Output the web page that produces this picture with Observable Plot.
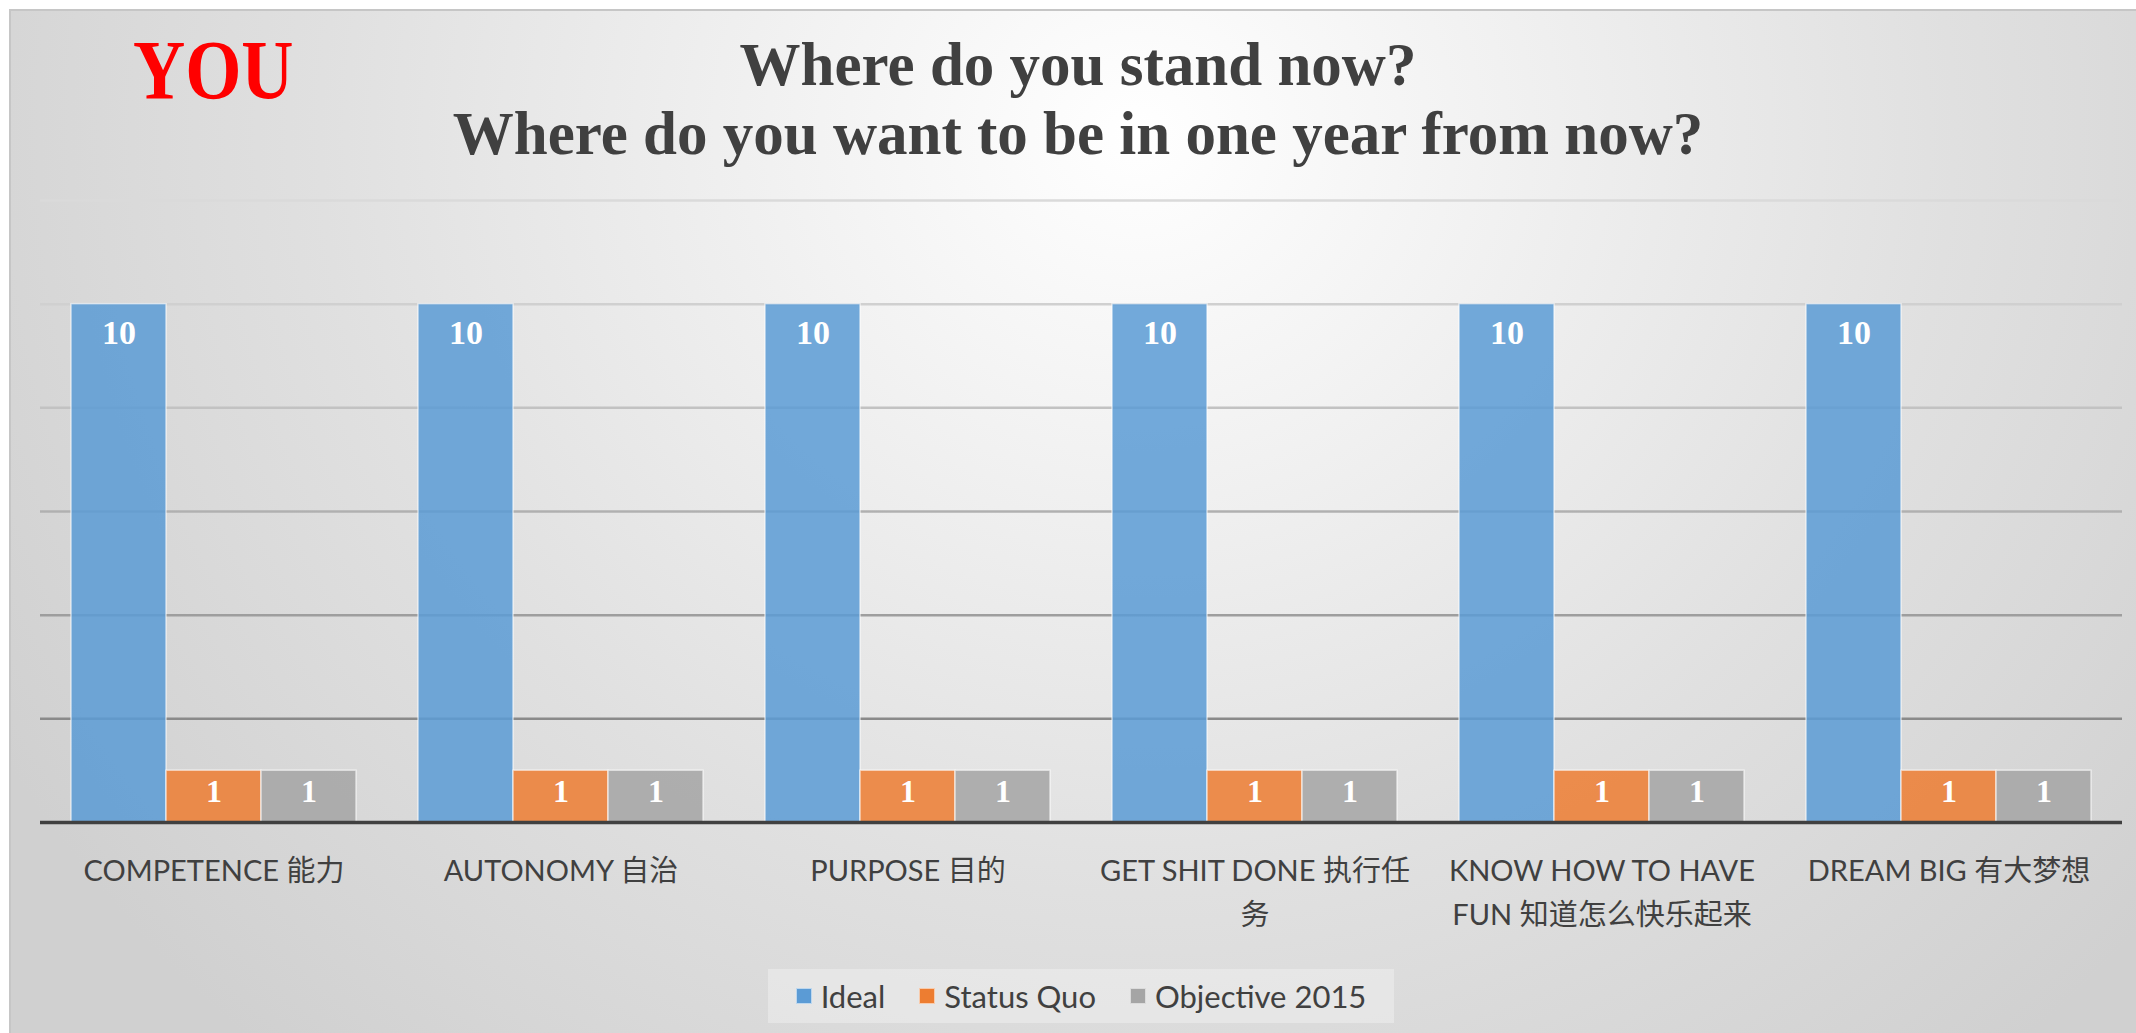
<!DOCTYPE html>
<html>
<head>
<meta charset="utf-8">
<script src="https://cdn.jsdelivr.net/npm/d3@7"></script>
<script src="https://cdn.jsdelivr.net/npm/@observablehq/plot@0.6"></script>
<style>
  html, body { margin: 0; padding: 0; background: #ffffff; }
  #page { position: relative; width: 2136px; height: 1033px; overflow: hidden; background: #ffffff; }
  #bg { position: absolute; left: 9px; top: 9px; width: 2127px; height: 1024px;
        border-left: 2px solid #c6c6c6; border-top: 2px solid #c6c6c6; box-sizing: border-box;
        background: radial-gradient(ellipse 62% 120% at 53% 12%, #ffffff 0%, #f0f0f0 30%, #e0e0e0 62%, #d0d0d0 100%); }
  #you { position: absolute; left: 133px; top: 29px; font: bold 84px/84px "Liberation Serif", serif; color: #ff0000; margin: 0;
         transform: scaleX(0.86); transform-origin: left center; }
  #title { position: absolute; left: 0; top: 30px; width: 2156px; text-align: center; margin: 0;
           font: bold 61px/69px "Liberation Serif", serif; color: #404040; }
  #chart { position: absolute; left: 0; top: 190px; }
  #legend { position: absolute; left: 768px; top: 969px; width: 626px; height: 54px;
            background: rgba(255,255,255,0.3); display: flex; align-items: center; justify-content: center;
            font: 31px "Lato", "Noto Sans", sans-serif; color: #404040; }
  .item { display: flex; align-items: center; margin: 0 17px; }
  .sw { width: 16px; height: 16px; margin-right: 9px; border: 1px solid rgba(255,255,255,0.6); box-sizing: border-box; }
</style>
</head>
<body>
<div id="page">
  <div id="bg"></div>
  <div id="you">YOU</div>
  <div id="title">Where do you stand now?<br>Where do you want to be in one year from now?</div>
  <div id="chart"></div>
  <div id="legend"></div>
</div>
<script>
const categories = ["COMPETENCE 能力", "AUTONOMY 自治", "PURPOSE 目的", "GET SHIT DONE 执行任务", "KNOW HOW TO HAVE FUN 知道怎么快乐起来", "DREAM BIG 有大梦想"];
const categoryLabels = ["COMPETENCE 能力", "AUTONOMY 自治", "PURPOSE 目的", "GET SHIT DONE 执行任\n务", "KNOW HOW TO HAVE\nFUN 知道怎么快乐起来", "DREAM BIG 有大梦想"];
const series = ["Ideal", "Status Quo", "Objective 2015"];
const ideal = [10, 10, 10, 10, 10, 10];
const statusQuo = [1, 1, 1, 1, 1, 1];
const objective2015 = [1, 1, 1, 1, 1, 1];
const seriesColors = ["#5B9BD5", "#ED7D31", "#A5A5A5"];
const yTicks = [2, 4, 6, 8, 10, 12];

const seriesValues = [ideal, statusQuo, objective2015];
const rows = categories.flatMap((c, i) => series.map((s, j) => ({category: c, series: s, value: seriesValues[j][i]})));

const gridColors = {2: "#8a8a8a", 4: "#9e9e9e", 6: "#b0b0b0", 8: "#c2c2c2", 10: "#d0d0d0", 12: "#dadada"};

const chart = Plot.plot({
  width: 2136,
  height: 770,
  marginLeft: 39,
  marginRight: 13,
  marginTop: 10,
  marginBottom: 138,
  style: {background: "transparent", fontSize: "29px", fontFamily: "Lato, 'Noto Sans CJK SC', sans-serif", color: "#404040"},
  facet: {data: rows, x: "category"},
  fx: {domain: categories, padding: 0, label: null},
  x: {domain: series, paddingInner: 0, paddingOuter: 0.325, axis: null},
  y: {domain: [0, 12], axis: null},
  color: {domain: series, range: seriesColors},
  marks: [
    Plot.axisFx({anchor: "bottom", label: null, tickSize: 0, tickPadding: 28, lineHeight: 1.5, fontSize: 29,
      tickFormat: d => categoryLabels[categories.indexOf(d)]}),
    ...yTicks.map(t => Plot.ruleY([t], {stroke: gridColors[t], strokeWidth: 2.5})),
    Plot.barY(rows, {x: "series", y: "value", fill: "series", fillOpacity: 0.85, stroke: "white", strokeOpacity: 0.6, strokeWidth: 1.5}),
    Plot.ruleY([0], {stroke: "#404040", strokeWidth: 3.5}),
    Plot.text(rows, {filter: d => d.series === "Ideal", x: "series", y: "value", text: d => String(d.value), dy: 29,
      fill: "white", fontWeight: "bold", fontSize: 34, fontFamily: "'Liberation Serif', serif"}),
    Plot.text(rows, {filter: d => d.series !== "Ideal", x: "series", y: "value", text: d => String(d.value), dy: 21,
      fill: "white", fontWeight: "bold", fontSize: 32, fontFamily: "'Liberation Serif', serif"})
  ]
});
document.getElementById("chart").appendChild(chart);

const legend = document.getElementById("legend");
series.forEach((s, j) => {
  const item = document.createElement("div");
  item.className = "item";
  const sw = document.createElement("div");
  sw.className = "sw";
  sw.style.background = seriesColors[j];
  const label = document.createElement("span");
  label.textContent = s;
  item.appendChild(sw);
  item.appendChild(label);
  legend.appendChild(item);
});
</script>
</body>
</html>
